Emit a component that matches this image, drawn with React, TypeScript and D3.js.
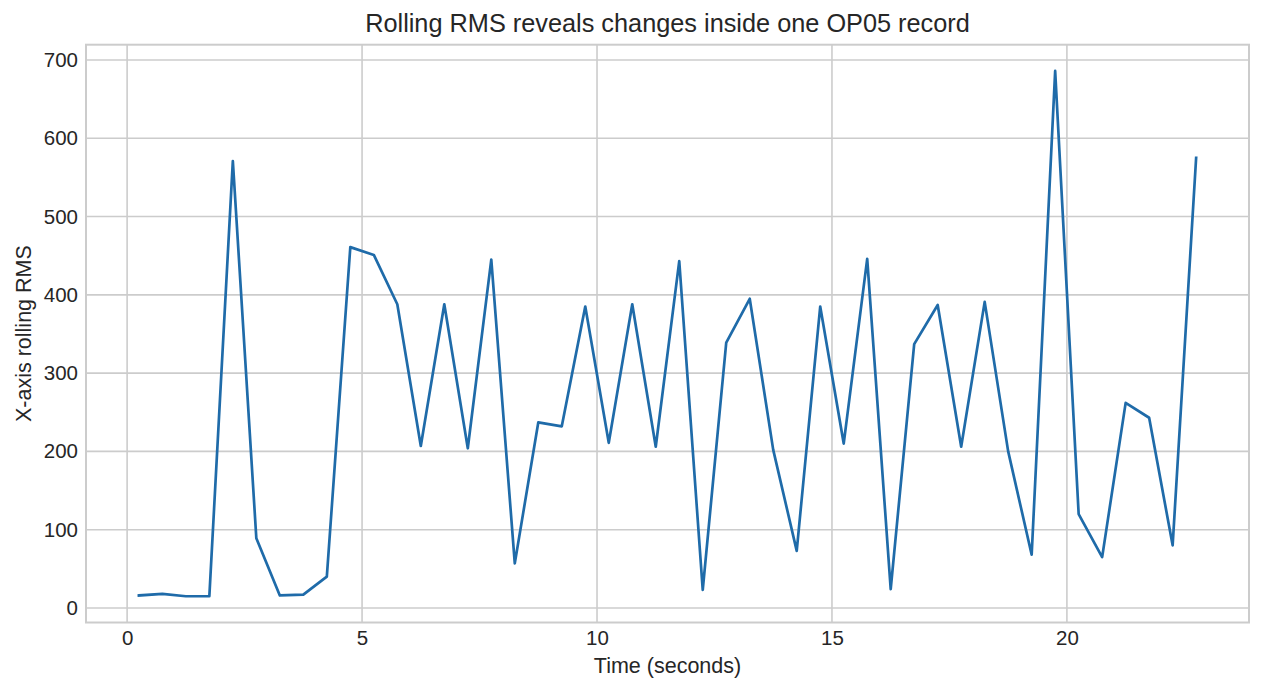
import React, { useRef, useEffect } from "react";
import * as d3 from "d3";

// sample times (s) and rolling RMS values
const TIMES = [
  0.25, 0.75, 1.25, 1.75, 2.25, 2.75, 3.25, 3.75, 4.25, 4.75, 5.25, 5.75,
  6.25, 6.75, 7.25, 7.75, 8.25, 8.75, 9.25, 9.75, 10.25, 10.75, 11.25, 11.75,
  12.25, 12.75, 13.25, 13.75, 14.25, 14.75, 15.25, 15.75, 16.25, 16.75, 17.25,
  17.75, 18.25, 18.75, 19.25, 19.75, 20.25, 20.75, 21.25, 21.75, 22.25, 22.75,
];
const RMS = [
  16, 18, 15, 15, 571, 89, 16, 17, 40, 461, 451, 388, 207, 388, 204, 445, 57,
  237, 232, 385, 211, 388, 206, 443, 23, 339, 395, 202, 73, 385, 210, 446, 24,
  337, 387, 206, 391, 200, 68, 686, 120, 65, 262, 243, 80, 575,
];
const X_TICKS = [0, 5, 10, 15, 20];
const Y_TICKS = [0, 100, 200, 300, 400, 500, 600, 700];

const TITLE = "Rolling RMS reveals changes inside one OP05 record";
const X_LABEL = "Time (seconds)";
const Y_LABEL = "X-axis rolling RMS";

const WIDTH = 1263;
const HEIGHT = 692;
const MARGINS = { top: 44.7, right: 14, bottom: 69.5, left: 86 };
const LINE_COLOR = "#1f6ba9";
const GRID_COLOR = "#cccccc";
const TEXT_COLOR = "#262626";
const FONT = "'Liberation Sans', Arial, sans-serif";

const RmsChart: React.FC = () => {
  const svgRef = useRef<SVGSVGElement | null>(null);

  useEffect(() => {
    if (!svgRef.current) return;
    d3.select(svgRef.current).selectAll("*").remove();

    const innerWidth = WIDTH - MARGINS.left - MARGINS.right;
    const innerHeight = HEIGHT - MARGINS.top - MARGINS.bottom;

    const svg = d3
      .select(svgRef.current)
      .attr("width", WIDTH)
      .attr("height", HEIGHT)
      .style("font-family", FONT);

    svg.append("rect").attr("width", WIDTH).attr("height", HEIGHT).attr("fill", "#fff");

    const g = svg
      .append("g")
      .attr("transform", `translate(${MARGINS.left},${MARGINS.top})`);

    // matplotlib-like 5% padding around the data
    const [xMin, xMax] = d3.extent(TIMES) as [number, number];
    const [yMin, yMax] = d3.extent(RMS) as [number, number];
    const xPad = (xMax - xMin) * 0.05;
    const yPad = (yMax - yMin) * 0.05;

    const xScale = d3
      .scaleLinear()
      .domain([xMin - xPad, xMax + xPad])
      .range([0, innerWidth]);
    const yScale = d3
      .scaleLinear()
      .domain([yMin - yPad, yMax + yPad])
      .range([innerHeight, 0]);

    // grid
    g.append("g")
      .selectAll("line")
      .data(X_TICKS)
      .join("line")
      .attr("x1", (d) => xScale(d))
      .attr("x2", (d) => xScale(d))
      .attr("y1", 0)
      .attr("y2", innerHeight)
      .attr("stroke", GRID_COLOR)
      .attr("stroke-width", 1.6);

    g.append("g")
      .selectAll("line")
      .data(Y_TICKS)
      .join("line")
      .attr("x1", 0)
      .attr("x2", innerWidth)
      .attr("y1", (d) => yScale(d))
      .attr("y2", (d) => yScale(d))
      .attr("stroke", GRID_COLOR)
      .attr("stroke-width", 1.6);

    // axes (labels only, no tick marks)
    const xAxis = g
      .append("g")
      .attr("transform", `translate(0,${innerHeight})`)
      .call(d3.axisBottom(xScale).tickValues(X_TICKS).tickSize(0).tickPadding(8));
    const yAxis = g
      .append("g")
      .call(d3.axisLeft(yScale).tickValues(Y_TICKS).tickSize(0).tickPadding(8));

    [xAxis, yAxis].forEach((ax) => {
      ax.select(".domain").remove();
      ax.selectAll("text")
        .attr("font-size", 20.5)
        .attr("font-family", FONT)
        .attr("fill", TEXT_COLOR);
    });

    // line
    const lineGen = d3
      .line<number>()
      .x((_, i) => xScale(TIMES[i]))
      .y((d) => yScale(d));

    g.append("path")
      .datum(RMS)
      .attr("fill", "none")
      .attr("stroke", LINE_COLOR)
      .attr("stroke-width", 2.7)
      .attr("stroke-linejoin", "round")
      .attr("stroke-linecap", "square")
      .attr("d", lineGen);

    // frame
    g.append("rect")
      .attr("width", innerWidth)
      .attr("height", innerHeight)
      .attr("fill", "none")
      .attr("stroke", GRID_COLOR)
      .attr("stroke-width", 2);

    // title and axis labels
    svg
      .append("text")
      .attr("x", MARGINS.left + innerWidth / 2)
      .attr("y", 32)
      .attr("text-anchor", "middle")
      .attr("font-size", 25.3)
      .attr("fill", TEXT_COLOR)
      .text(TITLE);

    svg
      .append("text")
      .attr("x", MARGINS.left + innerWidth / 2)
      .attr("y", 673)
      .attr("text-anchor", "middle")
      .attr("font-size", 21.5)
      .attr("fill", TEXT_COLOR)
      .text(X_LABEL);

    svg
      .append("text")
      .attr("transform", `translate(31,${MARGINS.top + innerHeight / 2}) rotate(-90)`)
      .attr("text-anchor", "middle")
      .attr("font-size", 21.5)
      .attr("fill", TEXT_COLOR)
      .text(Y_LABEL);
  }, []);

  return <svg ref={svgRef} style={{ position: "absolute", left: 0, top: 0 }} />;
};

export default function App() {
  return <RmsChart />;
}
